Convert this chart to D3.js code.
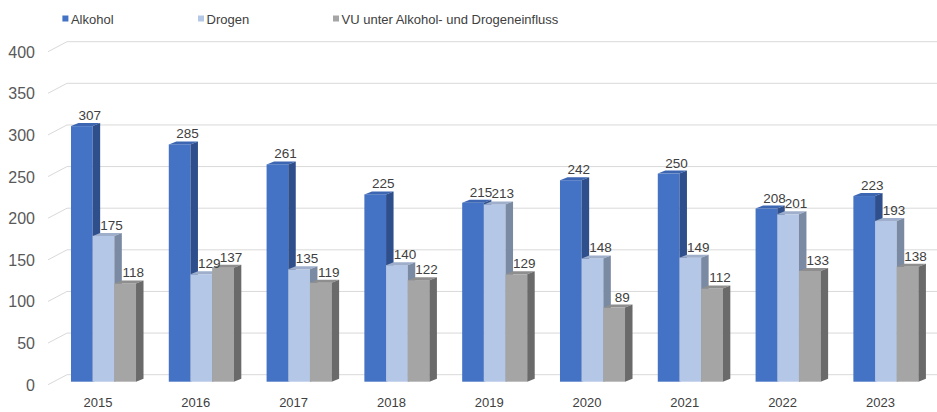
<!DOCTYPE html>
<html>
<head>
<meta charset="utf-8">
<script src="https://cdn.jsdelivr.net/npm/d3@7"></script>
<style>
  body { margin: 0; background: #fff; }
  svg { display: block; font-family: "Liberation Sans", Arial, sans-serif; }
</style>
</head>
<body>
<div id="chart"></div>
<script>
var years = ["2015", "2016", "2017", "2018", "2019", "2020", "2021", "2022", "2023"];
var seriesNames = ["Alkohol", "Drogen", "VU unter Alkohol- und Drogeneinfluss"];
var alkohol = [307, 285, 261, 225, 215, 242, 250, 208, 223];
var drogen = [175, 129, 135, 140, 213, 148, 149, 201, 193];
var vu = [118, 137, 119, 122, 129, 89, 112, 133, 138];
var yTicks = [0, 50, 100, 150, 200, 250, 300, 350, 400];

var width = 937;
var height = 412;

// front, top, side colours per series
var colors = [
  { front: "#4472C4", top: "#3D66B2", side: "#2E4F8C" },
  { front: "#B4C7E7", top: "#9EAECB", side: "#7B8AA3" },
  { front: "#A5A5A5", top: "#8E8E8E", side: "#6A6A6A" }
];

var svg = d3.select("#chart")
  .append("svg")
  .attr("width", width)
  .attr("height", height);

var y = d3.scaleLinear().domain([0, 400]).range([381.7, 48.7]);

var x0 = d3.scaleBand()
  .domain(years)
  .range([54.6, 934.8])
  .paddingInner(0.335)
  .paddingOuter(0.1675);

var x1 = d3.scaleBand()
  .domain([0, 1, 2])
  .range([0, x0.bandwidth()]);

var wallDy = -7;
var dx = 7.5, dy = -3;

// gridlines on back wall plus diagonal from axis
var grid = svg.append("g");
yTicks.forEach(function(t) {
  grid.append("line")
    .attr("x1", 48).attr("y1", y(t) + 3)
    .attr("x2", 67).attr("y2", y(t) + wallDy)
    .attr("stroke", "#d9d9d9").attr("stroke-width", 1);
  grid.append("line")
    .attr("x1", 67).attr("y1", y(t) + wallDy)
    .attr("x2", width).attr("y2", y(t) + wallDy)
    .attr("stroke", "#d9d9d9").attr("stroke-width", 1);
});

// y axis labels
svg.append("g").selectAll("text")
  .data(yTicks)
  .enter()
  .append("text")
  .attr("x", 35)
  .attr("y", function(d) { return y(d) + 9; })
  .attr("text-anchor", "end")
  .attr("font-size", 16)
  .attr("fill", "#595959")
  .text(function(d) { return d; });

// bars
var table = years.map(function(yr, i) {
  return { year: yr, values: [alkohol[i], drogen[i], vu[i]] };
});

var groups = svg.append("g").selectAll("g")
  .data(table)
  .enter()
  .append("g")
  .attr("transform", function(d) { return "translate(" + x0(d.year) + ",0)"; });

var w = x1.bandwidth();
var yb = y(0);

groups.each(function(d) {
  var g = d3.select(this);
  d.values.forEach(function(v, j) {
    var x = x1(j);
    var yt = y(v);
    var c = colors[j];
    g.append("rect")
      .attr("x", x).attr("y", yt)
      .attr("width", w).attr("height", yb - yt)
      .attr("fill", c.front);
    g.append("polygon")
      .attr("points", [[x, yt], [x + dx, yt + dy], [x + w + dx, yt + dy], [x + w, yt]].join(" "))
      .attr("fill", c.top);
    g.append("polygon")
      .attr("points", [[x + w, yt], [x + w + dx, yt + dy], [x + w + dx, yb + dy], [x + w, yb]].join(" "))
      .attr("fill", c.side);
  });
});

// data labels
groups.each(function(d) {
  var g = d3.select(this);
  d.values.forEach(function(v, j) {
    g.append("text")
      .attr("x", x1(j) + w / 2 + 8)
      .attr("y", y(v) - 6)
      .attr("text-anchor", "middle")
      .attr("font-size", 13.5)
      .attr("fill", "#404040")
      .text(v);
  });
});

// category labels
svg.append("g").selectAll("text")
  .data(years)
  .enter()
  .append("text")
  .attr("x", function(d) { return x0(d) + x0.bandwidth() / 2 - 5.5; })
  .attr("y", 406.5)
  .attr("text-anchor", "middle")
  .attr("font-size", 13)
  .attr("fill", "#404040")
  .text(function(d) { return d; });

// legend
var legendX = [62.4, 198, 333];
var legend = svg.append("g").selectAll("g")
  .data(seriesNames)
  .enter()
  .append("g")
  .attr("transform", function(d, i) { return "translate(" + legendX[i] + ",0)"; });

legend.append("rect")
  .attr("x", 0).attr("y", 15.5)
  .attr("width", 6).attr("height", 6)
  .attr("fill", function(d, i) { return colors[i].front; });

legend.append("text")
  .attr("x", 8.5)
  .attr("y", 23.5)
  .attr("font-size", 13)
  .attr("fill", "#404040")
  .text(function(d) { return d; });
</script>
</body>
</html>
